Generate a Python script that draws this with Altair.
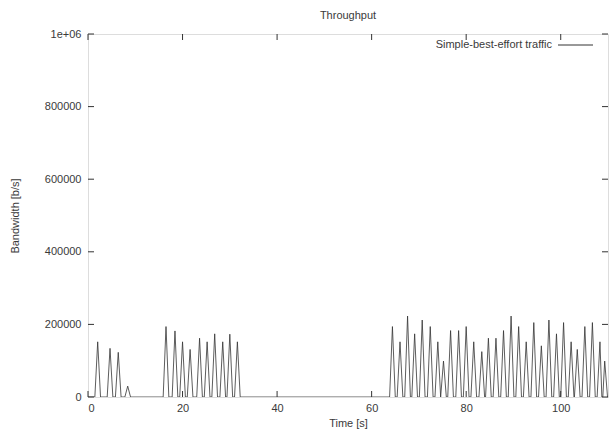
import altair as alt
import pandas as pd

# Peak times (s) and peak bandwidth values (b/s)
peak_times = [2.05, 4.66, 6.4, 8.4,
              16.5, 18.4, 20.0, 21.6, 23.6, 25.2, 26.8, 28.5, 30.0, 31.6,
              64.4, 66.0, 67.6, 69.1, 70.7, 72.4, 74.0, 75.2, 76.7, 78.4,
              80.0, 81.6, 83.3, 84.7, 86.3, 87.9, 89.5, 91.1, 92.7, 94.3,
              95.9, 97.5, 99.1, 100.6, 102.2, 103.5, 105.1, 106.7, 108.3, 109.3]
peak_values = [152000, 134000, 123000, 30000,
               194000, 182000, 152000, 131000, 162000, 152000, 174000, 152000, 173000, 152000,
               194000, 152000, 223000, 174000, 212000, 194000, 152000, 99000, 183000, 183000,
               194000, 152000, 125000, 162000, 162000, 183000, 223000, 194000, 152000, 205000,
               141000, 212000, 174000, 205000, 152000, 131000, 194000, 205000, 152000, 99000]
half_width = 0.6

x_ticks = [0, 20, 40, 60, 80, 100]
y_ticks = [0, 200000, 400000, 600000, 800000, 1000000]

rows = [{"t": 0.0, "bw": 0}]
for t, v in zip(peak_times, peak_values):
    rows.append({"t": t - half_width, "bw": 0})
    rows.append({"t": t, "bw": v})
    rows.append({"t": t + half_width, "bw": 0})
rows.append({"t": 110.0, "bw": 0})
df = pd.DataFrame(rows)

W, H = 520, 363
FONT = "Liberation Sans"
TXT = "#3a3a3a"

xscale = alt.Scale(domain=[0, 110], nice=False, zero=False)
yscale = alt.Scale(domain=[0, 1000000], nice=False)

line = alt.Chart(df).mark_line(color="#333333", strokeWidth=0.8, clip=True).encode(
    x=alt.X("t:Q", scale=xscale,
            axis=alt.Axis(values=x_ticks, title="Time [s]", ticks=False, domain=False, grid=False,
                          labelFont=FONT, labelFontSize=11, labelColor=TXT, labelPadding=5,
                          titleFont=FONT, titleFontSize=11, titleFontWeight="normal",
                          titleColor=TXT, titlePadding=4)),
    y=alt.Y("bw:Q", scale=yscale,
            axis=alt.Axis(values=y_ticks, title="Bandwidth [b/s]", ticks=False, domain=False,
                          grid=False, labelFont=FONT, labelFontSize=11, labelColor=TXT,
                          labelPadding=7,
                          labelExpr="datum.value >= 1000000 ? '1e+06' : format(datum.value, 'd')",
                          titleFont=FONT, titleFontSize=11, titleFontWeight="normal",
                          titleColor=TXT, titlePadding=24)),
)

xt = pd.DataFrame({"v": x_ticks})
yt = pd.DataFrame({"v": y_ticks})

tick_style = dict(color="#333333", strokeWidth=1)
xb = alt.Chart(xt).mark_rule(**tick_style).encode(
    x=alt.X("v:Q", scale=xscale), y=alt.value(H), y2=alt.value(H - 6))
xtop = alt.Chart(xt).mark_rule(**tick_style).encode(
    x=alt.X("v:Q", scale=xscale), y=alt.value(0), y2=alt.value(6))
yl = alt.Chart(yt).mark_rule(**tick_style).encode(
    y=alt.Y("v:Q", scale=yscale), x=alt.value(0), x2=alt.value(6))
yr = alt.Chart(yt).mark_rule(**tick_style).encode(
    y=alt.Y("v:Q", scale=yscale), x=alt.value(W), x2=alt.value(W - 6))

leg_df = pd.DataFrame({"label": ["Simple-best-effort traffic"]})
leg_text = alt.Chart(leg_df).mark_text(align="right", baseline="middle", font=FONT,
                                       fontSize=11, color=TXT).encode(
    text="label:N", x=alt.value(464), y=alt.value(11))
leg_line = alt.Chart(leg_df).mark_rule(color="#333333", strokeWidth=1).encode(
    x=alt.value(470), x2=alt.value(505), y=alt.value(11))

chart = alt.layer(line, xb, xtop, yl, yr, leg_text, leg_line).properties(
    width=W, height=H,
    title=alt.TitleParams("Throughput", font=FONT, fontSize=11, fontWeight="normal",
                          color=TXT, anchor="middle", offset=7),
    autosize=alt.AutoSizeParams(type="none"),
    padding={"left": 88, "top": 34, "right": 5, "bottom": 39},
).configure_view(stroke="#333333", strokeWidth=1).configure(background="white")

chart.save("out.html", embed_options={"renderer": "svg", "actions": False})
